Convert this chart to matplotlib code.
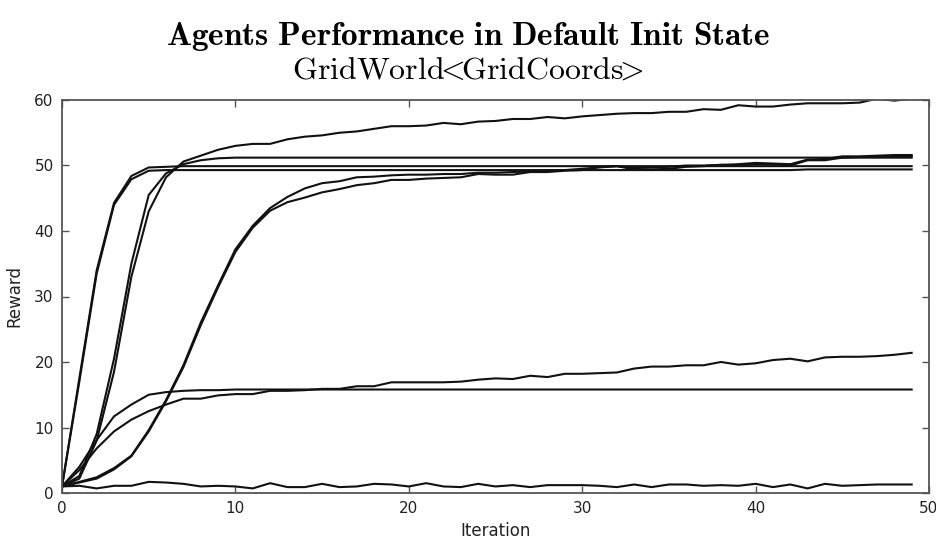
import numpy as np
import matplotlib
matplotlib.use("Agg")
import matplotlib.pyplot as plt

plt.rcParams['mathtext.fontset'] = 'cm'
plt.rcParams['font.family'] = ['DejaVu Sans']

iterations = list(range(50))

fast_a = [1.0, 17.5, 34.0, 44.3, 48.4, 49.7, 49.8, 49.9, 49.9, 49.9] + [49.9] * 40
fast_b = [1.0, 17.0, 33.5, 44.0, 47.9, 49.2, 49.3, 49.3, 49.3, 49.3] + [49.3] * 30 + [49.3, 49.3, 49.3, 49.4, 49.4, 49.4, 49.4, 49.4, 49.4, 49.4]

med_top = [1.0, 2.2, 8.0, 18.5, 33.0, 43.0, 48.2, 50.6, 51.5, 52.4, 53.0, 53.3, 53.3, 54.0, 54.4,
           54.6, 55.0, 55.2, 55.6, 56.0, 56.0, 56.1, 56.5, 56.3, 56.7, 56.8, 57.1, 57.1, 57.4, 57.2,
           57.5, 57.7, 57.9, 58.0, 58.0, 58.2, 58.2, 58.6, 58.5, 59.2, 59.0, 59.0, 59.3, 59.5, 59.5,
           59.5, 59.6, 60.2, 59.9, 60.2]
med_flat = [1.0, 2.6, 9.0, 20.5, 35.0, 45.5, 48.8, 50.2, 50.8, 51.1, 51.2] + [51.2] * 39

slow_a = [1.0, 1.7, 2.4, 3.8, 5.7, 9.6, 14.2, 19.5, 26.0, 31.7, 37.2, 40.8, 43.5, 45.2, 46.5,
          47.3, 47.6, 48.2, 48.3, 48.5, 48.6, 48.6, 48.7, 48.7, 48.9, 48.9, 49.0, 49.1, 49.2, 49.3,
          49.5, 49.7, 49.9, 49.6, 49.7, 49.8, 50.0, 50.0, 50.1, 50.2, 50.4, 50.3, 50.2, 50.9, 51.0,
          51.4, 51.4, 51.5, 51.6, 51.6]
slow_b = [1.0, 1.6, 2.2, 3.6, 5.6, 9.4, 14.0, 19.2, 25.6, 31.4, 36.8, 40.5, 43.1, 44.4, 45.1,
          45.9, 46.4, 47.0, 47.3, 47.8, 47.8, 48.0, 48.1, 48.2, 48.7, 48.6, 48.6, 49.0, 49.0, 49.2,
          49.3, 49.8, 49.9, 49.4, 49.4, 49.5, 49.8, 49.9, 50.1, 50.0, 50.2, 50.2, 50.0, 50.8, 50.8,
          51.2, 51.3, 51.3, 51.4, 51.4]

low_flat = [1.0, 4.0, 8.1, 11.7, 13.5, 15.0, 15.4, 15.6, 15.7, 15.7] + [15.8] * 40
low_rise = [1.0, 3.5, 6.8, 9.4, 11.2, 12.5, 13.5, 14.4, 14.4, 14.9, 15.1, 15.1, 15.6, 15.6, 15.7,
            15.9, 15.9, 16.3, 16.3, 16.9, 16.9, 16.9, 16.9, 17.0, 17.3, 17.5, 17.4, 17.9, 17.7, 18.2,
            18.2, 18.3, 18.4, 19.0, 19.3, 19.3, 19.5, 19.5, 20.0, 19.6, 19.8, 20.3, 20.5, 20.1, 20.7,
            20.8, 20.8, 20.9, 21.1, 21.4]

noise = [1.0, 1.1, 0.7, 1.1, 1.1, 1.7, 1.6, 1.4, 1.0, 1.1, 1.0, 0.7, 1.5, 0.9, 0.9,
         1.4, 0.9, 1.0, 1.4, 1.3, 1.0, 1.5, 1.0, 0.9, 1.4, 1.0, 1.2, 0.9, 1.2, 1.2,
         1.2, 1.1, 0.9, 1.3, 0.9, 1.3, 1.3, 1.1, 1.2, 1.1, 1.4, 0.9, 1.3, 0.7, 1.4,
         1.1, 1.2, 1.3, 1.3, 1.3]

series = [fast_a, fast_b, med_top, med_flat, slow_a, slow_b, low_flat, low_rise, noise]

x_ticks = [0, 10, 20, 30, 40, 50]
y_ticks = [0, 10, 20, 30, 40, 50, 60]

fig = plt.figure(figsize=(9.36, 5.39), dpi=100, facecolor='white')
ax = fig.add_axes([62/936, 1 - 493/539, (929 - 62)/936, (493 - 100)/539])

for s in series:
    ax.plot(iterations, s, color='#111111', linewidth=1.5)

ax.set_xlim(0, 50)
ax.set_ylim(0, 60)
ax.set_xticks(x_ticks)
ax.set_yticks(y_ticks)
ax.tick_params(direction='in', top=True, right=True, length=5, width=1, color='#555555',
               labelsize=11, labelcolor='#222222', pad=6)
for sp in ax.spines.values():
    sp.set_color('#555555')
    sp.set_linewidth(1.3)
ax.set_xlabel('Iteration', fontsize=12, labelpad=4, color='#222222')
ax.set_ylabel('Reward', fontsize=12, labelpad=8, color='#222222')

fig.text(0.5, 1 - 36/539, r'$\mathbf{Agents\ Performance\ in\ Default\ Init\ State}$',
         ha='center', va='center', fontsize=24)
fig.text(0.5, 1 - 70/539, r'$\mathrm{GridWorld}\!\!{<}\!\!\mathrm{GridCoords}\!\!{>}$',
         ha='center', va='center', fontsize=23)

fig.savefig('out.png', dpi=100, facecolor='white')
